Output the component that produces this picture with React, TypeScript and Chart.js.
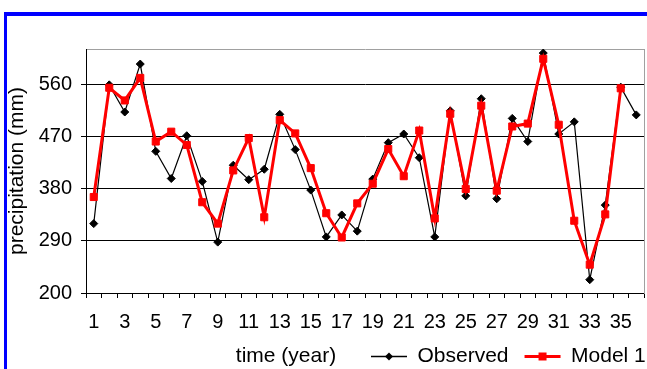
import React, { useEffect, useRef } from 'react';
import { Chart, registerables } from 'chart.js';

Chart.register(...registerables);

// ---- data ----
const years = [
  '1', '2', '3', '4', '5', '6', '7', '8', '9', '10', '11', '12',
  '13', '14', '15', '16', '17', '18', '19', '20', '21', '22', '23', '24',
  '25', '26', '27', '28', '29', '30', '31', '32', '33', '34', '35', '36',
];

const observed = [
  320, 560, 513, 596, 445, 398, 472, 393, 288, 421, 396, 414,
  509, 448, 378, 297, 335, 307, 397, 460, 475, 434, 297, 515,
  368, 536, 363, 502, 462, 615, 475, 496, 223, 352, 556, 508,
];

const model1 = [
  366, 555, 533, 572, 462, 479, 456, 357, 320, 412, 468, 331,
  499, 476, 416, 338, 296, 355, 389, 449, 402, 481, 329, 510,
  380, 524, 377, 488, 493, 605, 491, 325, 249, 336, 554, null,
];

const yTicks = [200, 290, 380, 470, 560];
const yMin = 200;
const yMax = 622;

const yTitle = 'precipitation (mm)';
const xTitle = 'time (year)';
const seriesNames = ['Observed', 'Model 1'];

// ---- styling ----
const FAMILY = 'Arial, "Liberation Sans", sans-serif';
const CANVAS_W = 700;
const CANVAS_H = 369;
const PLOT_BOTTOM = 293;
const LEGEND_PAD = 16;
const LEGEND_FONT = 21;
const LEGEND_BOX = 36;

const overlayPlugin = {
  id: 'overlay',
  afterLayout(chart: any) {
    const lg = chart.legend;
    if (lg) {
      lg.left = 371 - LEGEND_PAD;
      lg.right = CANVAS_W;
      lg.top = 330;
      lg.bottom = CANVAS_H;
      lg.width = lg.right - lg.left;
      lg.height = lg.bottom - lg.top;
    }
    const xs = chart.scales.x;
    if (xs) {
      xs.bottom = CANVAS_H;
      xs.height = xs.bottom - xs.top;
    }
  },
  afterDraw(chart: any) {
    const ctx = chart.ctx;
    const lg = chart.legend;
    ctx.save();
    if (lg && lg.legendHitBoxes) {
      lg.legendHitBoxes.forEach((hb: any, i: number) => {
        const cx = hb.left + LEGEND_BOX / 2;
        const cy = hb.top + LEGEND_FONT / 2;
        ctx.beginPath();
        if (i === 0) {
          const r = 4;
          ctx.moveTo(cx, cy - r);
          ctx.lineTo(cx + r, cy);
          ctx.lineTo(cx, cy + r);
          ctx.lineTo(cx - r, cy);
          ctx.closePath();
          ctx.fillStyle = '#000';
          ctx.fill();
        } else {
          const h = 4;
          ctx.rect(cx - h, cy - h, 2 * h, 2 * h);
          ctx.fillStyle = '#ff0000';
          ctx.fill();
        }
      });
    }
    ctx.font = `${LEGEND_FONT}px ${FAMILY}`;
    ctx.fillStyle = '#000';
    ctx.textAlign = 'center';
    ctx.textBaseline = 'middle';
    ctx.fillText(xTitle, 286, 356.5);
    ctx.restore();
  },
};

export default function App() {
  const ref = useRef<HTMLCanvasElement>(null);

  useEffect(() => {
    if (!ref.current) return;
    const chart = new Chart(ref.current, {
      type: 'line',
      data: {
        labels: years,
        datasets: [
          {
            label: seriesNames[0],
            data: observed,
            borderColor: '#000000',
            backgroundColor: '#000000',
            borderWidth: 1.2,
            pointStyle: 'rectRot',
            pointRadius: 4,
            pointBorderWidth: 1,
            pointBackgroundColor: '#000000',
            pointBorderColor: '#000000',
            tension: 0,
            order: 1,
          },
          {
            label: seriesNames[1],
            data: model1,
            borderColor: '#ff0000',
            backgroundColor: '#ff0000',
            borderWidth: 3,
            pointStyle: 'rect',
            pointRadius: 5,
            pointBorderWidth: 1,
            pointBackgroundColor: '#ff0000',
            pointBorderColor: '#ff0000',
            tension: 0,
            order: 0,
          },
        ],
      },
      options: {
        responsive: false,
        maintainAspectRatio: false,
        animation: false,
        devicePixelRatio: 1,
        layout: { padding: { left: 0, top: 49, right: CANVAS_W - 644, bottom: 0 } },
        plugins: {
          tooltip: { enabled: false },
          title: { display: false },
          legend: {
            display: true,
            position: 'bottom',
            align: 'start',
            labels: {
              usePointStyle: true,
              pointStyle: 'line',
              pointStyleWidth: LEGEND_BOX,
              padding: LEGEND_PAD,
              color: '#000',
              font: { size: LEGEND_FONT, family: FAMILY },
              generateLabels: () => [
                {
                  text: seriesNames[0],
                  strokeStyle: '#000000',
                  fillStyle: '#000000',
                  lineWidth: 1.5,
                  pointStyle: 'line',
                  datasetIndex: 0,
                  hidden: false,
                  fontColor: '#000',
                },
                {
                  text: seriesNames[1],
                  strokeStyle: '#ff0000',
                  fillStyle: '#ff0000',
                  lineWidth: 3,
                  pointStyle: 'line',
                  datasetIndex: 1,
                  hidden: false,
                  fontColor: '#000',
                },
              ],
            },
          },
        },
        scales: {
          x: {
            type: 'category',
            position: 'bottom',
            offset: true,
            grid: {
              display: true,
              offset: true,
              drawOnChartArea: false,
              drawTicks: true,
              tickLength: 5,
              tickColor: '#000',
              tickWidth: 1,
            },
            border: { display: true, color: '#000', width: 1 },
            ticks: {
              autoSkip: false,
              maxRotation: 0,
              minRotation: 0,
              padding: 12,
              color: '#000',
              font: { size: 20, family: FAMILY },
              callback: (_v: any, i: number) => (i % 2 === 0 ? years[i] : ''),
            },
            afterFit: (s: any) => {
              const lh = s.chart.legend ? s.chart.legend.height : 0;
              s.height = CANVAS_H - PLOT_BOTTOM - lh;
            },
          },
          x2: {
            type: 'category',
            position: 'top',
            offset: true,
            grid: { display: true, drawOnChartArea: false, drawTicks: false, tickLength: 0 },
            border: { display: true, color: '#a0a0a0', width: 1 },
            ticks: { display: false },
          },
          y: {
            type: 'linear',
            position: 'left',
            min: yMin,
            max: yMax,
            afterBuildTicks: (s: any) => {
              s.ticks = yTicks.map((v) => ({ value: v }));
            },
            grid: {
              color: '#000',
              lineWidth: 1,
              drawTicks: true,
              tickLength: 5,
              tickColor: '#000',
            },
            border: { display: true, color: '#000', width: 1 },
            ticks: {
              padding: 9,
              color: '#000',
              font: { size: 20, family: FAMILY },
            },
            title: {
              display: true,
              text: yTitle,
              color: '#000',
              font: { size: 21, family: FAMILY },
              padding: { top: 5, bottom: 0 },
            },
            afterFit: (s: any) => {
              s.width = 86;
            },
          },
          y2: {
            type: 'linear',
            position: 'right',
            min: yMin,
            max: yMax,
            grid: { display: true, drawOnChartArea: false, drawTicks: false, tickLength: 0 },
            border: { display: true, color: '#a0a0a0', width: 1 },
            ticks: { display: false },
          },
        },
      },
      plugins: [overlayPlugin],
    } as any);
    return () => chart.destroy();
  }, []);

  return (
    <div
      style={{
        position: 'fixed',
        left: 0,
        top: 0,
        width: 647,
        height: 369,
        overflow: 'hidden',
        background: '#ffffff',
      }}
    >
      <canvas
        ref={ref}
        width={CANVAS_W}
        height={CANVAS_H}
        style={{ position: 'absolute', left: 0, top: 0, width: CANVAS_W, height: CANVAS_H }}
      />
      <div
        style={{
          position: 'absolute',
          left: 4,
          top: 12,
          width: 1000,
          height: 1000,
          borderTop: '4px solid #0000ff',
          borderLeft: '3px solid #0000ff',
        }}
      />
    </div>
  );
}
